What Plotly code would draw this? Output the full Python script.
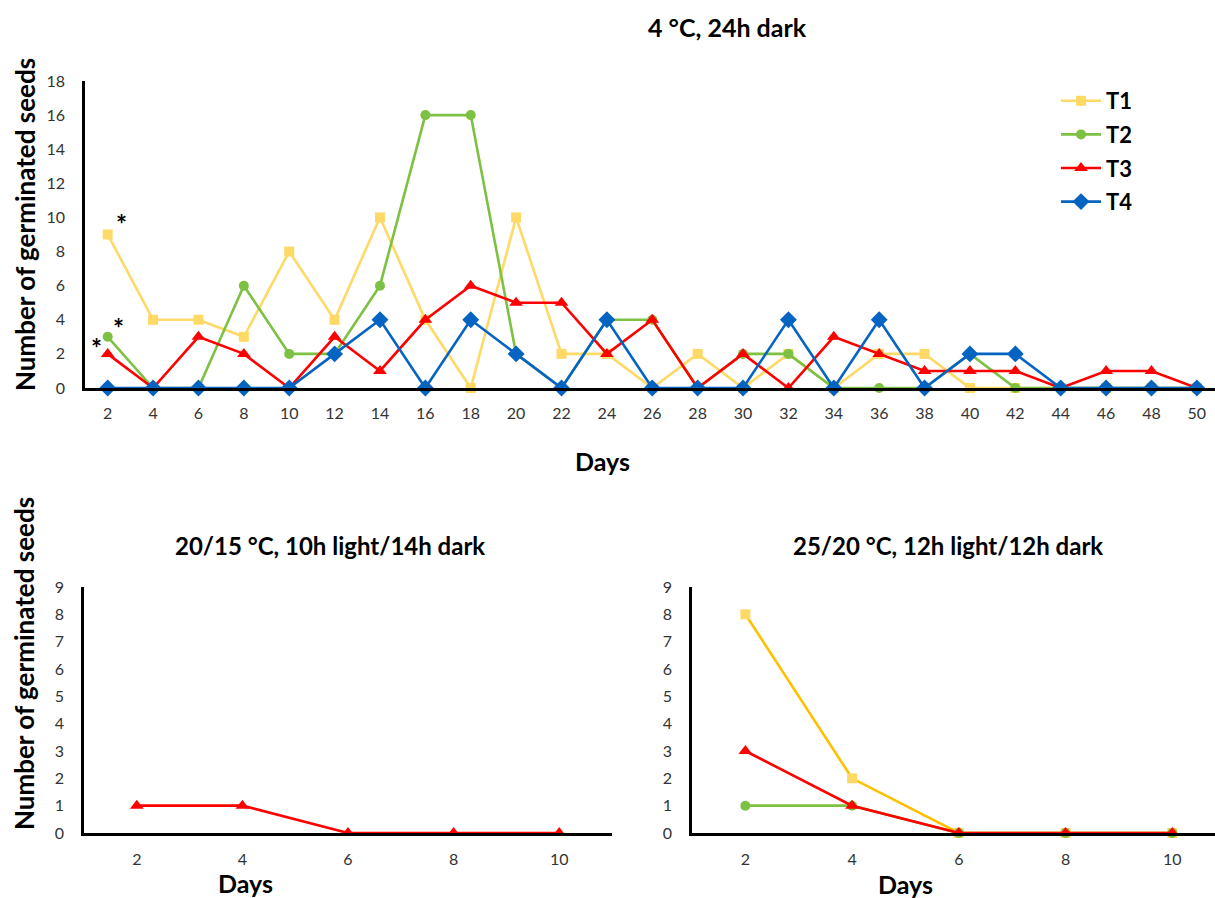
import plotly.graph_objects as go

# ---- data ----
days_top = [2, 4, 6, 8, 10, 12, 14, 16, 18, 20, 22, 24, 26, 28, 30, 32, 34, 36, 38, 40, 42, 44, 46, 48, 50]
t1_top = [9, 4, 4, 3, 8, 4, 10, 4, 0, 10, 2, 2, 0, 2, 0, 2, 0, 2, 2, 0, 0, 0, 0, 0, 0]
t2_top = [3, 0, 0, 6, 2, 2, 6, 16, 16, 2, 0, 4, 4, 0, 2, 2, 0, 0, 0, 2, 0, 0, 0, 0, 0]
t3_top = [2, 0, 3, 2, 0, 3, 1, 4, 6, 5, 5, 2, 4, 0, 2, 0, 3, 2, 1, 1, 1, 0, 1, 1, 0]
t4_top = [0, 0, 0, 0, 0, 2, 4, 0, 4, 2, 0, 4, 0, 0, 0, 4, 0, 4, 0, 2, 2, 0, 0, 0, 0]

days_bottom = [2, 4, 6, 8, 10]
t3_bl = [1, 1, 0, 0, 0]
t1_br = [8, 2, 0, 0, 0]
t2_br = [1, 1, 0, 0, 0]
t3_br = [3, 1, 0, 0, 0]

title_top = "4 °C, 24h dark"
title_bl = "20/15 °C, 10h light/14h dark"
title_br = "25/20 °C, 12h light/12h dark"
ytitle = "Number of germinated seeds"
xtitle = "Days"

# ---- styles ----
C1, C1M = "#FFD966", "#FFD966"
C1_BR = "#FFC000"
C2 = "#7CC142"
C3 = "#FF0000"
C4 = "#0563C1"
FONT = "Lato, 'Open Sans', sans-serif"
W, H = 1215, 898

def px_x(x):
    return x / W

def px_y(y):
    return 1 - y / H

fig = go.Figure()

def add(x, y, color, symbol, size, name, xa, ya, show, mcolor=None):
    fig.add_trace(go.Scatter(
        x=x, y=y, mode="lines+markers", name=name,
        line=dict(color=color, width=2.6),
        marker=dict(symbol=symbol, size=size, color=mcolor or color),
        xaxis=xa, yaxis=ya, showlegend=show, legendgroup=name, cliponaxis=False,
    ))

# top panel
add(days_top, t1_top, C1, "square", 10, "T1", "x", "y", True)
add(days_top, t2_top, C2, "circle", 10, "T2", "x", "y", True)
add(days_top, t3_top, C3, "triangle-up", 12, "T3", "x", "y", True)
add(days_top, t4_top, C4, "diamond", 13, "T4", "x", "y", True)

# bottom-left
add(days_bottom, t3_bl, C3, "triangle-up", 12, "T3", "x2", "y2", False)

# bottom-right
add(days_bottom, t1_br, C1_BR, "square", 10, "T1", "x3", "y3", False, mcolor=C1M)
add(days_bottom, t2_br, C2, "circle", 10, "T2", "x3", "y3", False)
add(days_bottom, t3_br, C3, "triangle-up", 12, "T3", "x3", "y3", False)

axis_common = dict(showgrid=False, zeroline=False, showline=True, linecolor="black",
                   linewidth=2.5, ticks="", tickfont=dict(family=FONT, size=16, color="#333333"),
                   fixedrange=True, automargin=False)

fig.update_layout(
    width=W, height=H, margin=dict(l=0, r=0, t=0, b=0, pad=0, autoexpand=False),
    paper_bgcolor="white", plot_bgcolor="white",
    font=dict(family=FONT),
    xaxis=dict(domain=[px_x(85), 1.0], range=[1, 50.8], tickmode="array",
               tickvals=days_top, anchor="y", ticklabelstandoff=9, **axis_common),
    yaxis=dict(domain=[px_y(388), px_y(81)], range=[0, 18], dtick=2, anchor="x",
               ticklabelstandoff=14, **axis_common),
    xaxis2=dict(domain=[px_x(84), px_x(612)], range=[1, 11], tickmode="array",
                tickvals=days_bottom, anchor="y2", ticklabelstandoff=10, **axis_common),
    yaxis2=dict(domain=[px_y(833), px_y(587)], range=[0, 9], dtick=1, anchor="x2",
                ticklabelstandoff=14, **axis_common),
    xaxis3=dict(domain=[px_x(692), 1.0], range=[1, 10.8], tickmode="array",
                tickvals=days_bottom, anchor="y3", ticklabelstandoff=10, **axis_common),
    yaxis3=dict(domain=[px_y(833), px_y(587)], range=[0, 9], dtick=1, anchor="x3",
                ticklabelstandoff=14, **axis_common),
    legend=dict(x=px_x(1056), y=px_y(80), xanchor="left", yanchor="top",
                font=dict(family=FONT, size=22, color="black", weight="bold"),
                bgcolor="rgba(0,0,0,0)", tracegroupgap=2, itemwidth=40),
)

def text(x, y, s, size, angle=0):
    fig.add_annotation(x=px_x(x), y=px_y(y), xref="paper", yref="paper", text=s,
                       showarrow=False, textangle=angle, xanchor="center", yanchor="middle",
                       font=dict(family=FONT, size=size, color="black", weight="bold"))

text(727, 27, title_top, 25)
text(330, 545, title_bl, 24)
text(948, 545, title_br, 24)
text(602, 461, xtitle, 25)
text(245, 883, xtitle, 25)
text(905, 884, xtitle, 25)
text(25, 225, ytitle, 26, -90)
text(24, 664, ytitle, 26, -90)

# asterisks marking significant values
for (xv, yv, xs, ys) in [(2, t1_top[0], 14, 10), (2, t2_top[0], 11, 9), (2, t3_top[0], -11, 6)]:
    fig.add_annotation(x=xv, y=yv, xref="x", yref="y", text="*", showarrow=False,
                       xshift=xs, yshift=ys,
                       font=dict(family=FONT, size=26, color="black", weight="bold"))

fig.write_html("out.html", config={"responsive": False, "displayModeBar": False},
               post_script="document.body.style.margin='0';document.body.style.overflow='hidden';")
